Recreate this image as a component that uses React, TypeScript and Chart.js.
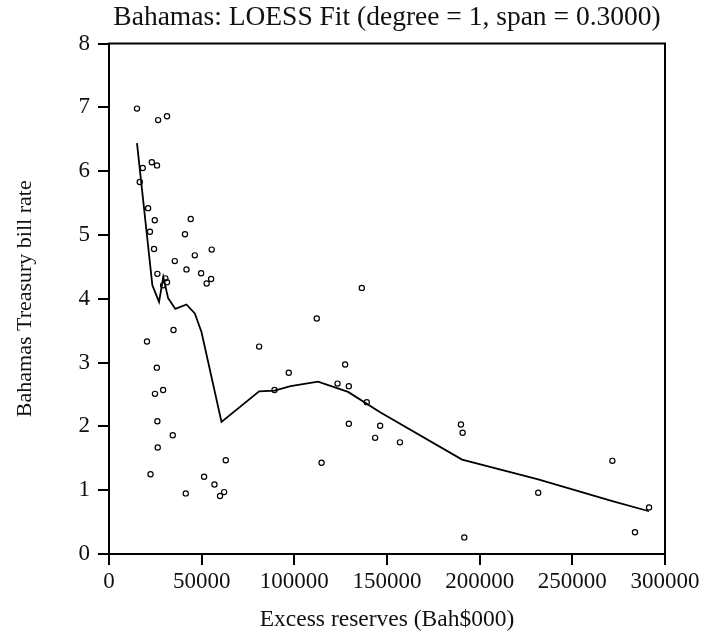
import { useEffect, useRef } from "react";
import { Chart, registerables } from "chart.js";

Chart.register(...registerables);

// Observations: excess reserves (Bah$000) and Treasury bill rate (%)
const reservesObs = [
  15100, 26500, 31300, 23100, 25900, 18200, 16600, 21100, 24700, 44100,
  22100, 41000, 24300, 55400, 35500, 46300, 41800, 26100, 49700, 55100,
  52700, 30400, 31300, 29200, 20500, 34800, 81000, 25800, 24800, 29200,
  89300, 26100, 34400, 26300, 63000, 22400, 51300, 56900, 62100, 59900,
  41400, 136400, 112100, 97000, 127400, 123300, 129400, 139100, 129400, 146300,
  143600, 157000, 114700, 189900, 190800, 191700, 231600, 271600, 283800, 291400,
];
const billRateObs = [
  6.98, 6.8, 6.86, 6.14, 6.09, 6.05, 5.83, 5.42, 5.23, 5.25,
  5.05, 5.01, 4.78, 4.77, 4.59, 4.68, 4.46, 4.39, 4.4, 4.31,
  4.24, 4.32, 4.26, 4.21, 3.33, 3.51, 3.25, 2.92, 2.51, 2.57,
  2.57, 2.08, 1.86, 1.67, 1.47, 1.25, 1.21, 1.09, 0.97, 0.91,
  0.95, 4.17, 3.69, 2.84, 2.97, 2.67, 2.63, 2.38, 2.04, 2.01,
  1.82, 1.75, 1.43, 2.03, 1.9, 0.26, 0.96, 1.46, 0.34, 0.73,
];

// LOESS fitted values (degree 1, span 0.3)
const fitReserves = [
  15100, 23400, 27000, 29300, 31900, 35800, 41800, 46300, 49900, 60700,
  81000, 89300, 98000, 112800, 129000, 146300, 190500, 231600, 271600, 291400,
];
const fitRate = [
  6.44, 4.21, 3.95, 4.34, 4.01, 3.84, 3.91, 3.77, 3.48, 2.07,
  2.55, 2.56, 2.63, 2.7, 2.54, 2.22, 1.48, 1.17, 0.83, 0.67,
];

const xTickValues = [0, 50000, 100000, 150000, 200000, 250000, 300000];
const yTickValues = [0, 1, 2, 3, 4, 5, 6, 7, 8];

const SERIF = "'Liberation Serif', 'Times New Roman', serif";
const INK = "#111";

const plotFrame = {
  id: "plotFrame",
  afterDatasetsDraw(chart: any) {
    const { ctx, chartArea: a } = chart;
    ctx.save();
    ctx.strokeStyle = "#000";
    ctx.lineWidth = 2;
    ctx.strokeRect(a.left, a.top, a.right - a.left, a.bottom - a.top);
    ctx.restore();
  },
};

export default function App() {
  const canvasRef = useRef<HTMLCanvasElement | null>(null);

  useEffect(() => {
    const canvas = canvasRef.current;
    if (!canvas) return;

    const observations = reservesObs.map((x, i) => ({ x, y: billRateObs[i] }));
    const fitted = fitReserves.map((x, i) => ({ x, y: fitRate[i] }));

    const chart = new Chart(canvas, {
      type: "scatter",
      data: {
        datasets: [
          {
            label: "LOESS fit",
            data: fitted,
            showLine: true,
            borderColor: "#000",
            borderWidth: 1.8,
            pointRadius: 0,
            tension: 0,
          },
          {
            label: "Observed",
            data: observations,
            showLine: false,
            pointRadius: 2.6,
            pointBorderWidth: 1.2,
            pointBorderColor: "#000",
            pointBackgroundColor: "rgba(0,0,0,0)",
          },
        ],
      },
      options: {
        responsive: false,
        animation: false,
        devicePixelRatio: 1,
        layout: { padding: { left: 0, right: 41, top: 0, bottom: 0 } },
        plugins: {
          legend: { display: false },
          tooltip: { enabled: false },
          title: {
            display: true,
            fullSize: false,
            text: "Bahamas: LOESS Fit (degree = 1, span = 0.3000)",
            color: INK,
            font: { family: SERIF, size: 27.5, weight: "normal" },
            padding: { top: 1.5, bottom: 9 },
          },
        },
        scales: {
          x: {
            type: "linear",
            min: 0,
            max: 300000,
            afterFit: (s: any) => {
              s.height = 85;
            },
            afterBuildTicks: (s: any) => {
              s.ticks = xTickValues.map((value) => ({ value }));
            },
            border: { display: false },
            grid: {
              drawOnChartArea: false,
              drawTicks: true,
              tickLength: 11,
              color: "#000",
              lineWidth: 2,
            },
            ticks: {
              color: INK,
              font: { family: SERIF, size: 23 },
              padding: 3,
              maxRotation: 0,
              autoSkip: false,
              callback: (v: any) => String(v),
            },
            title: {
              display: true,
              text: "Excess reserves (Bah$000)",
              color: INK,
              font: { family: SERIF, size: 23.5 },
              padding: { top: 0, bottom: 5 },
            },
          },
          y: {
            type: "linear",
            min: 0,
            max: 8,
            afterFit: (s: any) => {
              s.width = 109;
            },
            afterBuildTicks: (s: any) => {
              s.ticks = yTickValues.map((value) => ({ value }));
            },
            border: { display: false },
            grid: {
              drawOnChartArea: false,
              drawTicks: true,
              tickLength: 11,
              color: "#000",
              lineWidth: 2,
            },
            ticks: {
              color: INK,
              font: { family: SERIF, size: 23 },
              padding: 8,
              autoSkip: false,
              callback: (v: any) => String(v),
            },
            title: {
              display: true,
              text: "Bahamas Treasury bill rate",
              color: INK,
              font: { family: SERIF, size: 22 },
              padding: { top: 12, bottom: 0 },
            },
          },
        },
      },
      plugins: [plotFrame],
    });

    return () => chart.destroy();
  }, []);

  return (
    <div style={{ position: "absolute", left: 0, top: 0, width: 706, height: 639, background: "#fff" }}>
      <canvas ref={canvasRef} width={706} height={639} />
    </div>
  );
}
